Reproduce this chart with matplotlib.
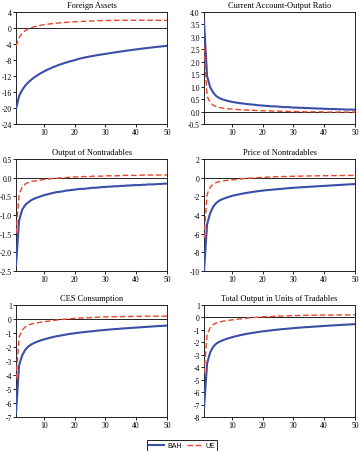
import matplotlib
matplotlib.use("Agg")
import matplotlib.pyplot as plt
from matplotlib.lines import Line2D

periods = list(range(1, 51))

titles = ["Foreign Assets", "Current Account-Output Ratio",
          "Output of Nontradables", "Price of Nontradables",
          "CES Consumption", "Total Output in Units of Tradables"]

foreign_bah = [-20.3, -17.0, -15.5, -14.4, -13.6, -12.9, -12.3, -11.8, -11.3, -10.9,
               -10.5, -10.15, -9.8, -9.5, -9.2, -8.95, -8.7, -8.45, -8.25, -8.05,
               -7.8, -7.6, -7.43, -7.27, -7.12, -6.98, -6.84, -6.71, -6.59, -6.47,
               -6.35, -6.23, -6.11, -5.99, -5.88, -5.77, -5.66, -5.55, -5.45, -5.35,
               -5.25, -5.15, -5.06, -4.97, -4.88, -4.79, -4.70, -4.62, -4.54, -4.46]
foreign_ue = [-4.5, -2.4, -1.3, -0.65, -0.2, 0.1, 0.33, 0.52, 0.68, 0.82,
              0.93, 1.03, 1.12, 1.2, 1.27, 1.34, 1.4, 1.46, 1.51, 1.56,
              1.6, 1.64, 1.68, 1.71, 1.74, 1.77, 1.8, 1.82, 1.84, 1.86,
              1.88, 1.9, 1.91, 1.92, 1.93, 1.94, 1.95, 1.95, 1.95, 1.95,
              1.95, 1.95, 1.94, 1.94, 1.93, 1.93, 1.92, 1.91, 1.9, 1.9]

ca_bah = [3.62, 1.42, 0.98, 0.76, 0.62, 0.54, 0.49, 0.45, 0.42, 0.39,
          0.37, 0.35, 0.33, 0.32, 0.3, 0.29, 0.28, 0.26, 0.25, 0.24,
          0.23, 0.22, 0.21, 0.21, 0.2, 0.19, 0.18, 0.18, 0.17, 0.16,
          0.16, 0.15, 0.15, 0.14, 0.14, 0.13, 0.13, 0.12, 0.12, 0.11,
          0.11, 0.1, 0.1, 0.1, 0.09, 0.09, 0.08, 0.08, 0.08, 0.07]
ca_ue = [2.6, 0.62, 0.36, 0.25, 0.2, 0.16, 0.14, 0.12, 0.11, 0.1,
         0.09, 0.08, 0.07, 0.07, 0.06, 0.05, 0.05, 0.04, 0.04, 0.03,
         0.03, 0.03, 0.02, 0.02, 0.02, 0.01, 0.01, 0.01, 0.0, 0.0,
         0.0, 0.0, -0.01, -0.01, -0.01, -0.01, -0.01, -0.01, -0.01, -0.02,
         -0.02, -0.02, -0.02, -0.02, -0.02, -0.02, -0.02, -0.02, -0.02, -0.02]

ynt_bah = [-2.35, -1.15, -0.86, -0.73, -0.66, -0.6, -0.56, -0.53, -0.5, -0.47,
           -0.45, -0.43, -0.41, -0.39, -0.38, -0.37, -0.35, -0.34, -0.33, -0.32,
           -0.31, -0.3, -0.3, -0.29, -0.28, -0.27, -0.27, -0.26, -0.25, -0.25,
           -0.24, -0.24, -0.23, -0.23, -0.22, -0.22, -0.21, -0.21, -0.2, -0.2,
           -0.2, -0.19, -0.19, -0.18, -0.18, -0.18, -0.17, -0.17, -0.16, -0.16]
ynt_ue = [-1.5, -0.45, -0.26, -0.17, -0.13, -0.1, -0.09, -0.08, -0.06, -0.05,
          -0.04, -0.03, -0.02, -0.02, -0.01, 0.0, 0.0, 0.01, 0.01, 0.02,
          0.02, 0.02, 0.03, 0.03, 0.03, 0.04, 0.04, 0.04, 0.04, 0.05,
          0.05, 0.05, 0.05, 0.05, 0.06, 0.06, 0.06, 0.06, 0.06, 0.06,
          0.06, 0.07, 0.07, 0.07, 0.07, 0.07, 0.07, 0.07, 0.07, 0.07]

pnt_bah = [-10.0, -5.0, -3.8, -3.1, -2.7, -2.45, -2.3, -2.17, -2.06, -1.96,
           -1.88, -1.81, -1.74, -1.68, -1.62, -1.57, -1.52, -1.47, -1.43, -1.39,
           -1.35, -1.32, -1.29, -1.26, -1.23, -1.2, -1.17, -1.14, -1.11, -1.09,
           -1.06, -1.04, -1.02, -1.0, -0.98, -0.96, -0.94, -0.92, -0.9, -0.88,
           -0.86, -0.84, -0.82, -0.8, -0.78, -0.76, -0.74, -0.72, -0.7, -0.68]
pnt_ue = [-6.5, -1.8, -1.0, -0.7, -0.52, -0.42, -0.36, -0.31, -0.27, -0.24,
          -0.2, -0.17, -0.13, -0.1, -0.07, -0.05, -0.03, -0.01, 0.01, 0.03,
          0.05, 0.06, 0.08, 0.09, 0.1, 0.11, 0.12, 0.13, 0.14, 0.15,
          0.16, 0.16, 0.17, 0.18, 0.18, 0.19, 0.19, 0.2, 0.2, 0.21,
          0.21, 0.22, 0.22, 0.22, 0.23, 0.23, 0.23, 0.24, 0.24, 0.25]

ces_bah = [-6.7, -3.3, -2.6, -2.2, -1.96, -1.81, -1.7, -1.61, -1.53, -1.46,
           -1.4, -1.34, -1.29, -1.24, -1.2, -1.16, -1.12, -1.08, -1.05, -1.02,
           -0.99, -0.96, -0.94, -0.91, -0.89, -0.87, -0.84, -0.82, -0.8, -0.78,
           -0.76, -0.74, -0.72, -0.71, -0.69, -0.67, -0.66, -0.64, -0.63, -0.61,
           -0.6, -0.58, -0.57, -0.55, -0.54, -0.52, -0.51, -0.5, -0.48, -0.47]
ces_ue = [-4.3, -1.3, -0.8, -0.56, -0.42, -0.36, -0.31, -0.27, -0.23, -0.2,
          -0.17, -0.14, -0.11, -0.08, -0.05, -0.03, -0.01, 0.01, 0.03, 0.05,
          0.06, 0.07, 0.08, 0.09, 0.1, 0.11, 0.12, 0.13, 0.14, 0.15,
          0.15, 0.16, 0.16, 0.17, 0.17, 0.18, 0.18, 0.18, 0.19, 0.19,
          0.19, 0.19, 0.2, 0.2, 0.2, 0.2, 0.2, 0.2, 0.2, 0.2]

tot_bah = [-7.3, -3.7, -2.8, -2.35, -2.1, -1.95, -1.84, -1.75, -1.67, -1.6,
           -1.53, -1.47, -1.41, -1.36, -1.31, -1.27, -1.23, -1.19, -1.15, -1.12,
           -1.09, -1.06, -1.03, -1.0, -0.98, -0.95, -0.93, -0.91, -0.88, -0.86,
           -0.84, -0.82, -0.8, -0.78, -0.77, -0.75, -0.73, -0.72, -0.7, -0.68,
           -0.67, -0.65, -0.64, -0.62, -0.61, -0.59, -0.58, -0.57, -0.55, -0.54]
tot_ue = [-4.5, -1.4, -0.82, -0.57, -0.44, -0.37, -0.31, -0.27, -0.23, -0.2,
          -0.17, -0.14, -0.11, -0.08, -0.05, -0.03, -0.01, 0.01, 0.03, 0.05,
          0.06, 0.07, 0.08, 0.09, 0.1, 0.11, 0.12, 0.13, 0.14, 0.15,
          0.15, 0.16, 0.16, 0.17, 0.17, 0.18, 0.18, 0.18, 0.19, 0.19,
          0.19, 0.19, 0.2, 0.2, 0.2, 0.2, 0.2, 0.2, 0.2, 0.2]

bah_series = [foreign_bah, ca_bah, ynt_bah, pnt_bah, ces_bah, tot_bah]
ue_series = [foreign_ue, ca_ue, ynt_ue, pnt_ue, ces_ue, tot_ue]

y_ticks = [
    [4, 0, -4, -8, -12, -16, -20, -24],
    [4.0, 3.5, 3.0, 2.5, 2.0, 1.5, 1.0, 0.5, 0.0, -0.5],
    [0.5, 0.0, -0.5, -1.0, -1.5, -2.0, -2.5],
    [2, 0, -2, -4, -6, -8, -10],
    [1, 0, -1, -2, -3, -4, -5, -6, -7],
    [1, 0, -1, -2, -3, -4, -5, -6, -7, -8],
]
y_fmt = ["{:.0f}", "{:.1f}", "{:.1f}", "{:.0f}", "{:.0f}", "{:.0f}"]
x_ticks = [10, 20, 30, 40, 50]

BLUE = "#3b4ea6"
RED = "#e8452c"
W, H = 359, 452

fig = plt.figure(figsize=(W / 100, H / 100), dpi=100)
serif = ["Liberation Serif", "DejaVu Serif"]

lefts = [16, 204]
tops = [13, 160, 306]
bottoms = [125, 272, 418]
aw = 151

for i in range(6):
    r, c = divmod(i, 2)
    l = lefts[c]
    t = tops[r]
    b = bottoms[r]
    ax = fig.add_axes([l / W, (H - b) / H, aw / W, (b - t) / H])
    ax.axhline(0, color="black", lw=0.6, zorder=1)
    ax.plot(periods, bah_series[i], color=BLUE, lw=1.5, zorder=3)
    ax.plot(periods, ue_series[i], color=RED, lw=1.0, ls=(0, (4, 2)), zorder=4)
    ax.set_xlim(1, 50)
    yt = y_ticks[i]
    ax.set_ylim(min(yt), max(yt))
    ax.set_yticks(yt)
    ax.set_yticklabels([y_fmt[i].format(v) for v in yt], family=serif, fontsize=5.5)
    ax.set_xticks(x_ticks)
    ax.set_xticklabels([str(v) for v in x_ticks], family=serif, fontsize=5.5)
    ax.tick_params(direction="out", length=2, width=0.6, pad=1)
    for s in ax.spines.values():
        s.set_linewidth(0.6)
    ax.set_title(titles[i], family=serif, fontsize=6, pad=3.8)

handles = [Line2D([], [], color=BLUE, lw=1.5),
           Line2D([], [], color=RED, lw=1.0, ls=(0, (4, 2)))]
fig.legend(handles, ["BAH", "UE"], loc="center", bbox_to_anchor=(182 / W, (H - 447) / H),
           ncol=2, frameon=True, fancybox=False, edgecolor="black",
           prop={"family": ["Liberation Sans", "DejaVu Sans"], "size": 5},
           handlelength=2.2, handletextpad=0.4, columnspacing=0.8,
           borderpad=0.3, framealpha=1).get_frame().set_linewidth(0.6)

fig.savefig("out.png", dpi=100)
